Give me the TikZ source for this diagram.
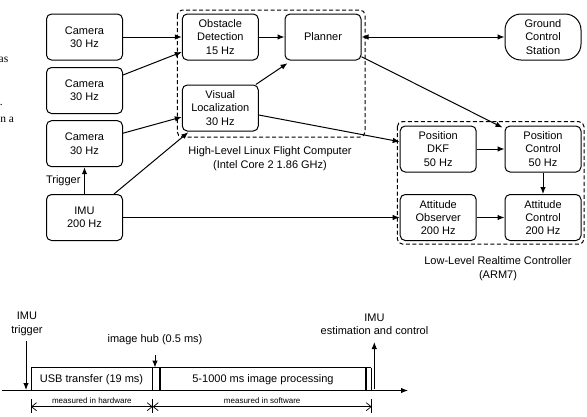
\documentclass[tikz,border=0pt]{standalone}
\usepackage{fontspec}
\setmainfont{Liberation Sans}
\newfontfamily\pageserif{Liberation Serif}
\usetikzlibrary{arrows.meta}

\begin{document}
\begin{tikzpicture}[x=1pt,y=-1pt,
  every node/.style={font=\fontsize{11}{13.3}\selectfont, text=black},
  blk/.style={draw, rounded corners=5pt, minimum width=76pt, minimum height=46pt,
              align=center, inner sep=0pt, line width=1pt},
  pill/.style={blk, rounded corners=16pt},
  grp/.style={draw, dashed, rounded corners=5pt, line width=1pt, dash pattern=on 4pt off 2.5pt},
  arr/.style={-{Latex[length=7pt,width=5.5pt]}, line width=1pt},
  biarr/.style={{Latex[length=7pt,width=5.5pt]}-{Latex[length=7pt,width=5.5pt]}, line width=1pt},
  txtblock/.style={align=center, inner sep=0pt},
  tiny/.style={font=\fontsize{8}{9.6}\selectfont, inner sep=0pt},
  dim/.style={{Straight Barb[length=5pt,width=8pt]}-{Straight Barb[length=5pt,width=8pt]}, line width=0.7pt},
  tickline/.style={line width=0.9pt},
  seg/.style={draw, line width=0.8pt},
  hub/.style={line width=1.5pt},
  pagetext/.style={font=\pageserif\fontsize{11.5}{13}\selectfont, inner sep=0pt, anchor=base east}
]
\useasboundingbox (0,0) rectangle (587,416);

% fragments of the neighbouring text column
\node[pagetext] (fragA) at (8.5,62.3) {as};
\node[pagetext] (fragB) at (3,105) {.};
\node[pagetext] (fragC) at (14.3,122.3) {n a};

% sensors
\node[blk] (cam1) at (84.5,37)    {Camera\\30 Hz};
\node[blk] (cam2) at (84.5,90.5)  {Camera\\30 Hz};
\node[blk] (cam3) at (84.5,143.7) {Camera\\30 Hz};
\node[blk] (imu)  at (84.5,217.5) {IMU\\200 Hz};

% high-level computer
\node[blk] (obs)     at (220.3,37) {Obstacle\\Detection\\15 Hz};
\node[blk] (planner) at (323,37)   {Planner};
\node[blk] (vis)     at (220.3,108) {Visual\\Localization\\30 Hz};
\draw[grp] (177.3,10) rectangle (365,137);
\node[txtblock] (hllabel) at (270,158.5) {High-Level Linux Flight Computer\\(Intel Core 2 1.86 GHz)};

% ground station
\node[pill] (gcs) at (543,37) {Ground\\Control\\Station};

% low-level controller
\node[blk] (pdkf) at (438.2,149)   {Position\\DKF\\50 Hz};
\node[blk] (pctl) at (543,149)     {Position\\Control\\50 Hz};
\node[blk] (aobs) at (438.2,217.5) {Attitude\\Observer\\200 Hz};
\node[blk] (actl) at (543,217.5)   {Attitude\\Control\\200 Hz};
\draw[grp] (397.3,121.7) rectangle (584,244);
\node[txtblock] (lllabel) at (498,268.5) {Low-Level Realtime Controller\\(ARM7)};

% data flow
\draw[arr] (cam1.east) -- (obs.west);
\draw[arr] ([yshift=15.5pt]cam2.east) -- ([yshift=-15pt]obs.west);
\draw[arr] ([yshift=10.5pt]cam3.east) -- ([yshift=-9pt]vis.west);
\draw[arr] ([xshift=29.5pt]imu.north) -- ([xshift=6.5pt,yshift=-0.7pt]vis.south west);
\draw[arr] (imu.north) -- node[left, inner sep=3.5pt] (trig) {Trigger} (cam3.south);
\draw[arr] (imu.east) -- (aobs.west);
\draw[arr] (obs.east) -- (planner.west);
\draw[arr] ([xshift=-3pt]vis.north east) -- ([xshift=3pt,yshift=-2.7pt]planner.south west);
\draw[arr] ([yshift=-7pt]vis.east) -- ([yshift=7.3pt]pdkf.west);
\draw[biarr] (planner.east) -- (gcs.west);
\draw[arr] ([yshift=-19.7pt]planner.east) -- ([xshift=-2pt,yshift=-2pt]pctl.north west);
\draw[arr] (pdkf.east) -- (pctl.west);
\draw[arr] (pctl.south) -- (actl.north);
\draw[arr] (aobs.east) -- (actl.west);

% timing line
\coordinate (t0) at (2,390.5);
\coordinate (tend) at (408,390.5);
\draw[arr] (t0) -- (tend);

\node[txtblock] (trigtxt) at (27,324) {IMU\\trigger};
\coordinate (trigtop) at (26,341);
\coordinate (trigbot) at (26,390);
\draw[arr] (trigtop) -- (trigbot);

% USB transfer
\draw[seg] (31,390.5) -- (31,367.5) -- (152.7,367.5);
\node (usb) at (91.5,379.5) {USB transfer (19 ms)};

% image hub
\draw[hub] (152.7,367.5) -- (152.7,390.5);
\draw[hub] (160,367.5) -- (160,390.5);
\draw[seg] (152.7,367.5) -- (160,367.5);
\node[txtblock] (hubtxt) at (155,340) {image hub (0.5 ms)};
\coordinate (hubtop) at (155,355);
\coordinate (hubbot) at (155,367.5);
\draw[arr] (hubtop) -- (hubbot);

% image processing
\draw[seg] (160,367.5) -- (371,367.5);
\draw[hub] (366,367.5) -- (366,390.5);
\draw[seg] (371,367.5) -- (371,390.5);
\node (proc) at (263,379.5) {5-1000 ms image processing};

% estimation and control
\node[txtblock] (esttxt) at (374.5,324) {IMU\\estimation and control};
\coordinate (estbot) at (374.3,389);
\coordinate (esttop) at (374.3,342);
\draw[arr] (estbot) -- (esttop);

% measurement spans
\coordinate (m0) at (31,406.7);
\coordinate (m1) at (152.7,406.7);
\coordinate (m2) at (371.7,406.7);
\foreach \c in {m0,m1,m2} \draw[tickline] ([yshift=7.5pt]\c) -- ([yshift=-6.5pt]\c);
\draw[dim] (m0) -- node[tiny, above=2.5pt] (hw) {measured in hardware} (m1);
\draw[dim] (m1) -- node[tiny, above=2.5pt] (sw) {measured in software} (m2);
\end{tikzpicture}
\end{document}
